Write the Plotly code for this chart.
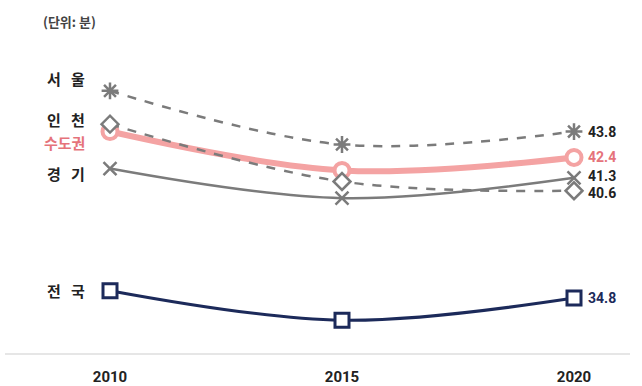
import plotly.graph_objects as go

years = [2010, 2015, 2020]
seoul = [46.0, 43.1, 43.8]
incheon = [44.2, 41.1, 40.6]
sudogwon = [43.8, 41.7, 42.4]
gyeonggi = [41.8, 40.2, 41.3]
national = [35.2, 33.6, 34.8]

names = ["서&nbsp;&nbsp;&nbsp;울", "인&nbsp;&nbsp;&nbsp;천", "수도권", "경&nbsp;&nbsp;&nbsp;기", "전&nbsp;&nbsp;&nbsp;국"]

FONT = "Noto Sans CJK KR"
GRAY = "#7b7b7b"
PINK = "#f4a3a3"
PINK_TXT = "#e5737b"
NAVY = "#1c2a5a"

fig = go.Figure()

fig.add_trace(go.Scatter(x=years, y=sudogwon, mode="lines+markers", line=dict(color=PINK, width=6, shape="spline"),
                         marker=dict(symbol="circle", size=15, color="white", line=dict(color=PINK, width=4)), name="수도권"))
fig.add_trace(go.Scatter(x=years, y=national, mode="lines+markers", line=dict(color=NAVY, width=3, shape="spline"),
                         marker=dict(symbol="square", size=14, color="white", line=dict(color=NAVY, width=3)), name="전국"))
fig.add_trace(go.Scatter(x=years, y=gyeonggi, mode="lines+markers", line=dict(color=GRAY, width=2.5, shape="spline"),
                         marker=dict(symbol="x-thin-open", size=13, color=GRAY, line=dict(color=GRAY, width=2.5)), name="경기"))
fig.add_trace(go.Scatter(x=years, y=incheon, mode="lines+markers", line=dict(color=GRAY, width=2.5, dash="dash", shape="spline"),
                         marker=dict(symbol="diamond", size=13, color="white", line=dict(color=GRAY, width=2.5)), name="인천"))
fig.add_trace(go.Scatter(x=years, y=seoul, mode="lines+markers", line=dict(color=GRAY, width=2.5, dash="dash", shape="spline"),
                         marker=dict(symbol="asterisk-open", size=14, color=GRAY, line=dict(color=GRAY, width=2.5)), name="서울"))

# left series labels
left = [(names[0], seoul[0], 12, "#222222"), (names[1], incheon[0], 5, "#222222"),
        (names[2], sudogwon[0], -11, PINK_TXT), (names[3], gyeonggi[0], -5, "#222222"),
        (names[4], national[0], 0, "#222222")]
for txt, yv, ys, col in left:
    fig.add_annotation(x=years[0], y=yv, text=txt, showarrow=False, xanchor="right",
                       xshift=-23, yshift=ys, font=dict(family=FONT, size=15, color=col, weight=600))

# right value labels
right = [(seoul[2], 0, "#222222"), (sudogwon[2], 0, PINK_TXT), (gyeonggi[2], 2, "#222222"),
         (incheon[2], -2, "#222222"), (national[2], 0, NAVY)]
for yv, ys, col in right:
    fig.add_annotation(x=years[2], y=yv, text=f"<b>{yv:.1f}</b>", showarrow=False, xanchor="left",
                       xshift=12, yshift=ys, font=dict(family="Liberation Sans Narrow, Roboto, sans-serif", size=14, color=col))

fig.add_annotation(xref="paper", yref="paper", x=0, y=1, xanchor="left", yanchor="top",
                   text="<b>(단위: 분)</b>", showarrow=False, xshift=36, yshift=0,
                   font=dict(family=FONT, size=13, color="#444444"))

fig.update_layout(
    width=642, height=386, showlegend=False,
    margin=dict(l=5, r=12, t=10, b=33),
    paper_bgcolor="white", plot_bgcolor="white",
    xaxis=dict(range=[2007.737, 2021.207], tickvals=years, ticktext=[f"<b>{y}</b>" for y in years],
               showgrid=False, zeroline=False, showline=True, linecolor="#e6e6e6", linewidth=2,
               ticks="outside", ticklen=9, tickcolor="rgba(0,0,0,0)", automargin=False,
               tickfont=dict(family="Liberation Sans Narrow, Roboto, sans-serif", size=15, color="#222222")),
    yaxis=dict(range=[31.83, 50.37], visible=False, automargin=False),
)

fig.write_html("out.html", config={"displayModeBar": False},
               post_script="document.body.style.margin='0';")
